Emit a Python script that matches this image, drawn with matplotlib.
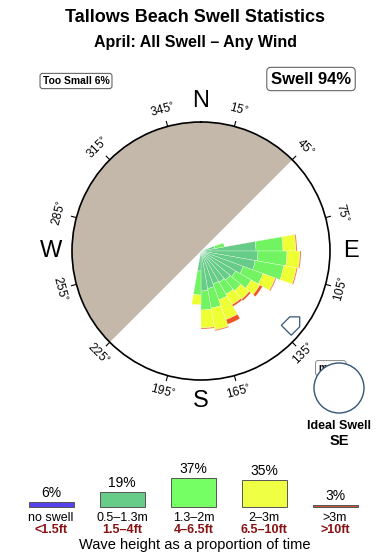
import numpy as np
import matplotlib.pyplot as plt
from matplotlib.patches import Circle, Polygon

plt.rcParams['font.family'] = ['Liberation Sans', 'DejaVu Sans']

# swell rose: 10 degree direction bins, radial length of each height class (px-like units)
dir_centers = [75, 85, 95, 105, 115, 125, 135, 145, 155, 165, 175, 185]
len_small = [14, 55, 57, 55, 45, 40, 38, 36, 35, 38, 40, 20]    # 0.5-1.3m
len_mid = [10, 27, 29, 29, 21, 18, 14, 14, 17, 20, 19, 24]      # 1.3-2m
len_big = [0, 13, 13, 13, 13, 10, 11, 12, 21, 22, 18, 10]       # 2-3m
len_huge = [0, 1, 1, 1, 1, 3, 2, 2, 5, 1, 1, 0]                 # >3m
rose_max = 129

# legend
leg_pct = [6, 19, 37, 35, 3]
leg_colors = ['#5544ee', '#66cc88', '#77ff66', '#eeff44', '#cc5533']
leg_m = ['no swell', '0.5\u20131.3m', '1.3\u20132m', '2\u20133m', '>3m']
leg_ft = ['<1.5ft', '1.5\u20134ft', '4\u20136.5ft', '6.5\u201310ft', '>10ft']

tick_dirs = [15, 45, 75, 105, 135, 165, 195, 225, 255, 285, 315, 345]
cardinals = {'N': 0, 'E': 90, 'S': 180, 'W': 270}

fig = plt.figure(figsize=(3.9, 5.6), dpi=100)

# overlay in pixel coordinates for the text and the legend
ov = fig.add_axes([0, 0, 1, 1])
ov.set_xlim(0, 390)
ov.set_ylim(560, 0)
ov.axis('off')

ov.text(195, 18, 'Tallows Beach Swell Statistics', ha='center', va='center',
        fontsize=13, fontweight='bold')
ov.text(195, 43, 'April: All Swell \u2013 Any Wind', ha='center', va='center',
        fontsize=11.5, fontweight='bold')
ov.text(76, 81, 'Too Small 6%', ha='center', va='center', fontsize=7.5, fontweight='bold',
        bbox=dict(boxstyle='round,pad=0.25', fc='white', ec='#666666', lw=0.8))
ov.text(311, 79, 'Swell 94%', ha='center', va='center', fontsize=12, fontweight='bold',
        bbox=dict(boxstyle='round,pad=0.25', fc='white', ec='#666666', lw=0.8))

# ideal swell marker
ov.text(318, 368, 'mean', ha='left', va='center', fontsize=7, fontweight='bold',
        bbox=dict(boxstyle='round,pad=0.25', fc='white', ec='#888888', lw=0.7))
ov.add_patch(Circle((339, 388), 25, fc='white', ec='#335577', lw=1.0, zorder=5))
ov.text(339, 426, 'Ideal Swell', ha='center', va='center', fontsize=9, fontweight='bold')
ov.text(339, 441, 'SE', ha='center', va='center', fontsize=10.5, fontweight='bold')

# legend bars
leg_x = [51, 122, 193.5, 264, 335]
base = 507
heights = [p * 0.78 for p in leg_pct]
ov.bar(leg_x, [-h for h in heights], bottom=base, width=45, color=leg_colors,
       edgecolor='#555555', linewidth=0.7)
for x, h, p, m, ft in zip(leg_x, heights, leg_pct, leg_m, leg_ft):
    ov.text(x, base - h - 9, '%d%%' % p, ha='center', va='center', fontsize=10)
    ov.text(x, 518, m, ha='center', va='center', fontsize=9)
    ov.text(x, 530, ft, ha='center', va='center', fontsize=9, color='#881111',
            fontweight='bold')
ov.text(195, 545, 'Wave height as a proportion of time', ha='center', va='center',
        fontsize=10.5)

# the rose itself
ax = fig.add_axes([72 / 390, 180 / 560, 258 / 390, 258 / 560], projection='polar')
ax.set_theta_zero_location('N')
ax.set_theta_direction(-1)
ax.set_ylim(0, rose_max)
ax.grid(False)
ax.set_xticks([])
ax.set_yticks([])
ax.spines['polar'].set_linewidth(1.2)
ax.patch.set_alpha(0)

# land side shaded
ax.bar(np.radians(315), rose_max, width=np.pi, bottom=0, color='#c4b8ab', linewidth=0)

theta = np.radians(dir_centers)
w = np.radians(10)
bottom = np.zeros(len(dir_centers))
for seg, col in zip([len_small, len_mid, len_big, len_huge],
                    ['#66cc88', '#72f462', '#eeff33', '#ee5522']):
    seg = np.array(seg, dtype=float)
    ax.bar(theta, seg, width=w, bottom=bottom, color=col, edgecolor='white',
           linewidth=0.2, align='center')
    bottom += seg

# ticks and labels
for d in tick_dirs:
    t = np.radians(d)
    ax.plot([t, t], [rose_max, rose_max + 5], color='black', lw=0.8, clip_on=False)
    rot = -d if (d < 90 or d > 270) else 180 - d
    ax.text(t, rose_max + 17, '%d$^{\\circ}$' % d, ha='center', va='center',
            rotation=rot, rotation_mode='anchor', fontsize=8.5, clip_on=False)
for lab, d in cardinals.items():
    ax.text(np.radians(d), rose_max + 21, lab, ha='center', va='center',
            fontsize=17, clip_on=False)

# ideal direction pointer near 135
tp = np.radians(129)
cx, cy = 117 * np.sin(tp), 117 * np.cos(tp)
u = np.array([1, 1]) / np.sqrt(2)
v = np.array([-1, 1]) / np.sqrt(2)
loc = [(-8, -7), (4, -7), (11, 0), (4, 7), (-8, 7)]
pts = []
for a, b in loc:
    x = cx + a * u[0] + b * v[0]
    y = cy + a * u[1] + b * v[1]
    pts.append((np.arctan2(x, y), np.hypot(x, y)))
ax.add_patch(Polygon(pts, closed=True, fc='white', ec='#335577', lw=0.9, zorder=6))

fig.savefig('out.png', dpi=100)
